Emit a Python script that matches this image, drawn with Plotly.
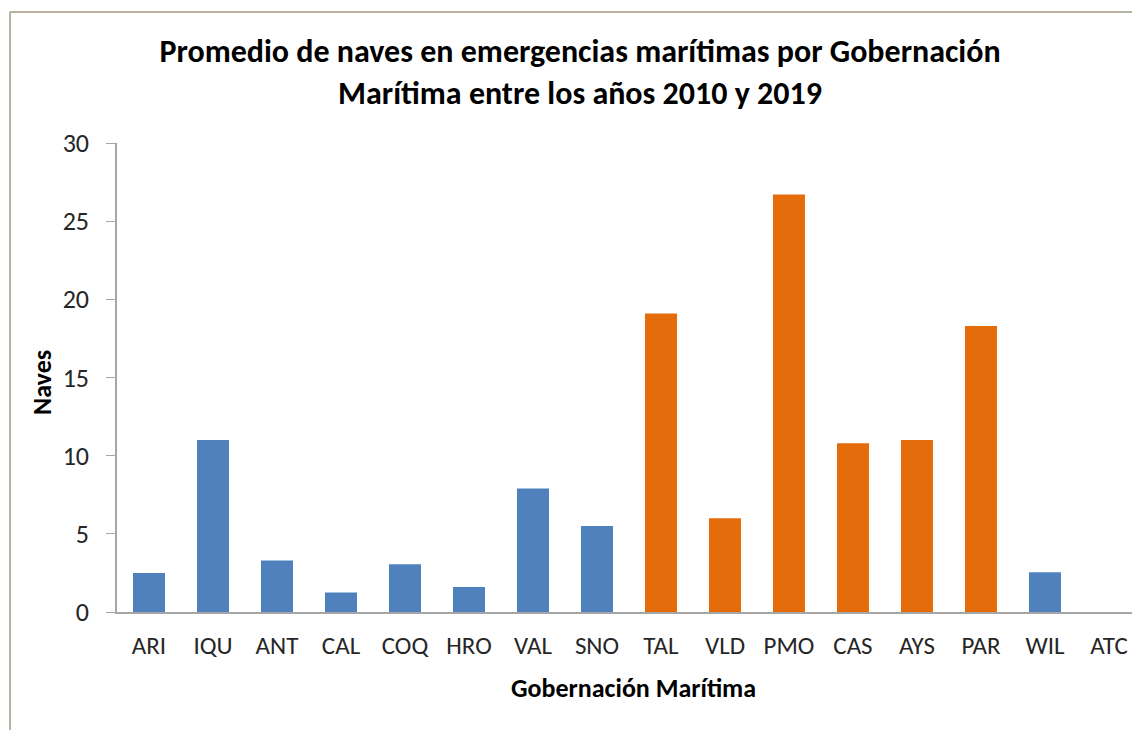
import plotly.graph_objects as go

# Promedio de naves por Gobernación Marítima (2010-2019)
gobernaciones = ["ARI", "IQU", "ANT", "CAL", "COQ", "HRO", "VAL", "SNO",
                 "TAL", "VLD", "PMO", "CAS", "AYS", "PAR", "WIL", "ATC"]
naves = [2.5, 11.0, 3.3, 1.25, 3.05, 1.6, 7.9, 5.5,
         19.1, 6.0, 26.7, 10.8, 11.0, 18.3, 2.55, 0]
grupo = ["a", "a", "a", "a", "a", "a", "a", "a",
         "b", "b", "b", "b", "b", "b", "a", "a"]
y_ticks = [0, 5, 10, 15, 20, 25, 30]

COLORES = {"a": "#4F81BD", "b": "#E46C0A"}
FONT = "Carlito, Calibri, Lato, sans-serif"

# margins in px -> used to place the outer frame in paper coords
W, H = 1132, 730
ML, MR, MT, MB = 117, 0, 143, 118
pw, ph = W - ML - MR, H - MT - MB


def px_x(px):
    return (px - ML) / pw


def px_y(py):
    return (H - MB - py) / ph


fig = go.Figure(go.Bar(
    x=gobernaciones,
    y=naves,
    marker=dict(color=[COLORES[g] for g in grupo], line=dict(width=0)),
))

# outer chart frame (top + left edges visible, rest cropped)
frame = dict(type="line", xref="paper", yref="paper",
             line=dict(color="#B8B2A0", width=2), layer="below")
fig.add_shape(**frame, x0=px_x(10), x1=px_x(W + 5), y0=px_y(12), y1=px_y(12))
fig.add_shape(**frame, x0=px_x(10), x1=px_x(10), y0=px_y(12), y1=px_y(H + 5))

# axis titles as annotations so they sit where the original has them
fig.add_annotation(text="<b>Naves</b>", xref="paper", yref="paper",
                   x=px_x(42), y=px_y(383), xanchor="center", yanchor="middle",
                   textangle=-90, showarrow=False,
                   font=dict(size=26, color="#000000"))
fig.add_annotation(text="<b>Gobernación Marítima</b>", xref="paper", yref="paper",
                   x=px_x(633), y=px_y(688), xanchor="center", yanchor="middle",
                   showarrow=False,
                   font=dict(size=26, color="#000000"))

fig.update_layout(
    width=W, height=H,
    margin=dict(l=ML, r=MR, t=MT, b=MB),
    paper_bgcolor="white",
    plot_bgcolor="white",
    bargap=0.5,
    showlegend=False,
    font=dict(family=FONT, color="#262626"),
    title=dict(
        text="<b>Promedio de naves en emergencias marítimas por Gobernación<br>Marítima entre los años 2010 y 2019</b>",
        x=580 / W, xanchor="center", y=1 - 62 / H, yanchor="middle",
        font=dict(family=FONT, size=32, color="#000000"),
    ),
    xaxis=dict(
        range=[-0.5, 15.36],
        showline=True, linecolor="#A6A6A6", linewidth=1.5,
        ticks="", showgrid=False, ticklabelstandoff=10,
        tickfont=dict(size=25, color="#262626"),
    ),
    yaxis=dict(
        range=[0, 30], tickvals=y_ticks,
        showline=True, linecolor="#A6A6A6", linewidth=1.5,
        ticks="outside", ticklen=9, tickcolor="#A6A6A6",
        ticklabelstandoff=12,
        showgrid=False, zeroline=False,
        tickfont=dict(size=26, color="#262626"),
    ),
)

fig.write_html("out.html", config={"displayModeBar": False},
               post_script="document.body.style.margin='0';")
